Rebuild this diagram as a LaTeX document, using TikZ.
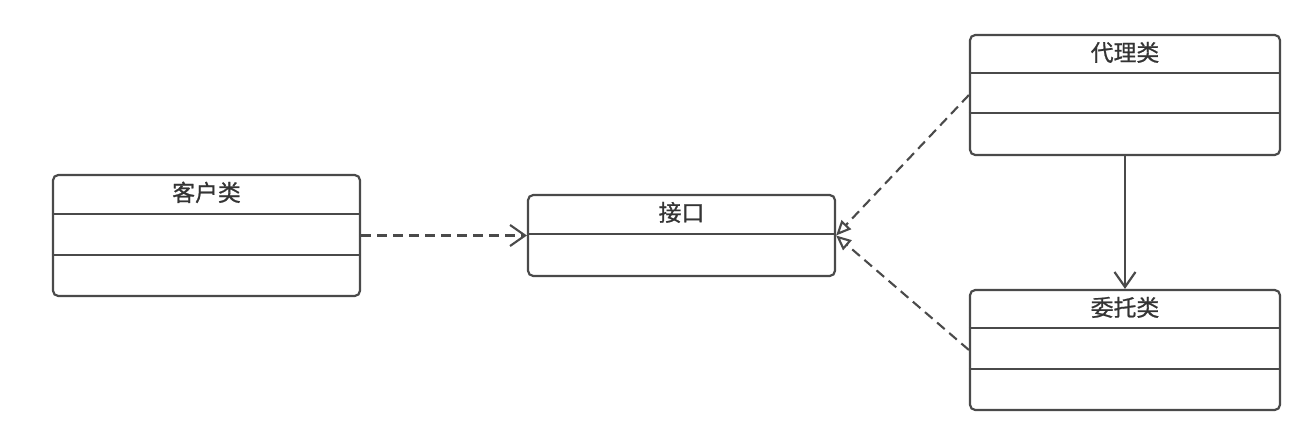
\documentclass[tikz,border=0pt]{standalone}
\usepackage{fontspec}
\newfontfamily\cjk[FakeBold=0.9]{Noto Sans CJK SC}
\usetikzlibrary{arrows.meta}
\definecolor{umlgray}{HTML}{4A4A4A}
\begin{document}
\begin{tikzpicture}[classbox/.style={draw=umlgray,line width=1.25pt,rounded corners=3pt,inner sep=0pt},
	title/.style={text=umlgray!70!black,font=\cjk\fontsize{13}{15}\selectfont},
	divider/.style={draw=umlgray,line width=1.25pt},
	depend/.style={draw=umlgray,line width=1.2pt,dash pattern=on 0.2cm off 0.12cm,-{Straight Barb[length=3mm,width=4.2mm]}},
	realize/.style={draw=umlgray,line width=1.2pt,dash pattern=on 0.2cm off 0.12cm,-{Triangle[open,length=3mm,width=2.6mm]}},
	assoc/.style={draw=umlgray,line width=1.25pt,-{Straight Barb[length=3mm,width=4.2mm]}}]
	\useasboundingbox (0,0) rectangle (26.32,8.6);

	% classes
	\node [classbox,minimum width=6.14cm,minimum height=2.42cm] (client) at (4.13,3.89) {};
	\node [classbox,minimum width=6.14cm,minimum height=1.62cm] (iface)  at (13.63,3.89) {};
	\node [classbox,minimum width=6.2cm,minimum height=2.4cm]   (proxy)  at (22.5,6.7) {};
	\node [classbox,minimum width=6.2cm,minimum height=2.4cm]   (real)   at (22.5,1.6) {};

	\node [title] (clientname) at ([yshift=-0.37cm]client.north) {客户类};
	\node [title] (ifacename)  at ([yshift=-0.37cm]iface.north)  {接口};
	\node [title] (proxyname)  at ([yshift=-0.37cm]proxy.north)  {代理类};
	\node [title] (realname)   at ([yshift=-0.37cm]real.north)   {委托类};

	% compartments
	\foreach \c/\d in {client/0.8,client/1.62,iface/0.8,proxy/0.78,proxy/1.58,real/0.78,real/1.6}
		\draw [divider] ([yshift=-\d cm]\c.north west) -- ([yshift=-\d cm]\c.north east);

	% relations
	\draw [depend]  (client.east) -- (iface.west);
	\draw [realize] (proxy.west)  -- (iface.east);
	\draw [realize] (real.west)   -- (iface.east);
	\draw [assoc]   (proxy.south) -- (real.north);
\end{tikzpicture}
\end{document}
